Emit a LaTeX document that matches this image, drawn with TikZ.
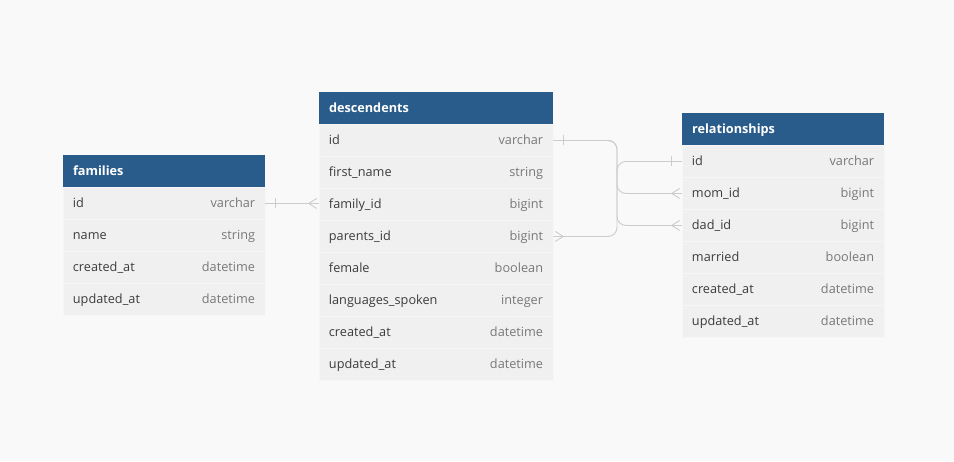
\documentclass[tikz,border=0pt]{standalone}
\usepackage{fontspec}
\setmainfont{Open Sans}
\definecolor{canvasgray}{RGB}{249,249,249}
\definecolor{headblue}{RGB}{41,92,139}
\definecolor{rowgray}{RGB}{240,240,240}
\definecolor{sepgray}{RGB}{246,246,246}
\definecolor{namegray}{RGB}{60,60,60}
\definecolor{typegray}{RGB}{120,120,120}
\definecolor{linkgray}{RGB}{204,204,204}
\usetikzlibrary{positioning,calc}

\begin{document}
\begin{tikzpicture}[x=1pt, y=-1pt,
    head/.style={rectangle, fill=headblue, minimum height=32pt, inner sep=0pt},
    row/.style={rectangle, fill=rowgray, draw=sepgray, line width=0.5pt, minimum height=32pt, inner sep=0pt},
    fname/.style={anchor=base west, inner sep=0pt, text=namegray, font=\fontsize{12.7}{15}\selectfont},
    ftype/.style={anchor=base east, inner sep=0pt, text=typegray, font=\fontsize{12.7}{15}\selectfont},
    title/.style={anchor=base west, inner sep=0pt, text=white, font=\bfseries\fontsize{12.7}{15}\selectfont},
    link/.style={draw=linkgray, line width=0.9pt}]
    \fill[canvasgray] (0,0) rectangle (954,461);
    \useasboundingbox (0,0) rectangle (954,461);

    % families
    \node[head, minimum width=202pt] (fam) at (164,171) {};
    \node[title] at ($(fam.west)+(10,4.5)$) {families};
    \foreach \f/\t [count=\i] in {id/varchar, name/string, created\_at/datetime, updated\_at/datetime} {
        \node[row, minimum width=202pt, below=0pt of fam, yshift={-32*(\i-1)}] (fam\i) {};
        \node[fname] at ($(fam\i.west)+(10,4.5)$) {\f};
        \node[ftype] at ($(fam\i.east)+(-10,4.5)$) {\t};
    }

    % descendents
    \node[head, minimum width=234pt] (desc) at (436,108) {};
    \node[title] at ($(desc.west)+(10,4.5)$) {descendents};
    \foreach \f/\t [count=\i] in {id/varchar, first\_name/string, family\_id/bigint, parents\_id/bigint,
        female/boolean, languages\_spoken/integer, created\_at/datetime, updated\_at/datetime} {
        \node[row, minimum width=234pt, below=0pt of desc, yshift={-32*(\i-1)}] (desc\i) {};
        \node[fname] at ($(desc\i.west)+(10,4.5)$) {\f};
        \node[ftype] at ($(desc\i.east)+(-10,4.5)$) {\t};
    }

    % relationships
    \node[head, minimum width=202pt] (rel) at (783,129) {};
    \node[title] at ($(rel.west)+(10,4.5)$) {relationships};
    \foreach \f/\t [count=\i] in {id/varchar, mom\_id/bigint, dad\_id/bigint, married/boolean,
        created\_at/datetime, updated\_at/datetime} {
        \node[row, minimum width=202pt, below=0pt of rel, yshift={-32*(\i-1)}] (rel\i) {};
        \node[fname] at ($(rel\i.west)+(10,4.5)$) {\f};
        \node[ftype] at ($(rel\i.east)+(-10,4.5)$) {\t};
    }

    % connectors
    \coordinate (bus) at (617,0);
    \draw[link] (fam1.east) -- (fam1.east -| desc3.west);
    \draw[link, rounded corners=9pt] (desc1.east) -- (desc1.east -| bus) -- (rel2.west -| bus) -- (rel2.west);
    \draw[link, rounded corners=9pt] (desc1.east) -- (desc1.east -| bus) -- (rel3.west -| bus) -- (rel3.west);
    \draw[link, rounded corners=9pt] (rel1.west) -- (rel1.west -| bus) -- (desc4.east -| bus) -- (desc4.east);

    % one ends
    \draw[link] ($(fam1.east)+(10,-5)$) -- ($(fam1.east)+(10,5)$);
    \draw[link] ($(desc1.east)+(10,-5)$) -- ($(desc1.east)+(10,5)$);
    \draw[link] ($(rel1.west)+(-10,-5)$) -- ($(rel1.west)+(-10,5)$);

    % many ends
    \draw[link] ($(fam1.east -| desc3.west)+(-2,-5)$) -- ($(fam1.east -| desc3.west)+(-10,0)$) -- ($(fam1.east -| desc3.west)+(-2,5)$);
    \draw[link] ($(rel2.west)+(-2,-5)$) -- ($(rel2.west)+(-10,0)$) -- ($(rel2.west)+(-2,5)$);
    \draw[link] ($(rel3.west)+(-2,-5)$) -- ($(rel3.west)+(-10,0)$) -- ($(rel3.west)+(-2,5)$);
    \draw[link] ($(desc4.east)+(2,-5)$) -- ($(desc4.east)+(10,0)$) -- ($(desc4.east)+(2,5)$);
\end{tikzpicture}
\end{document}
